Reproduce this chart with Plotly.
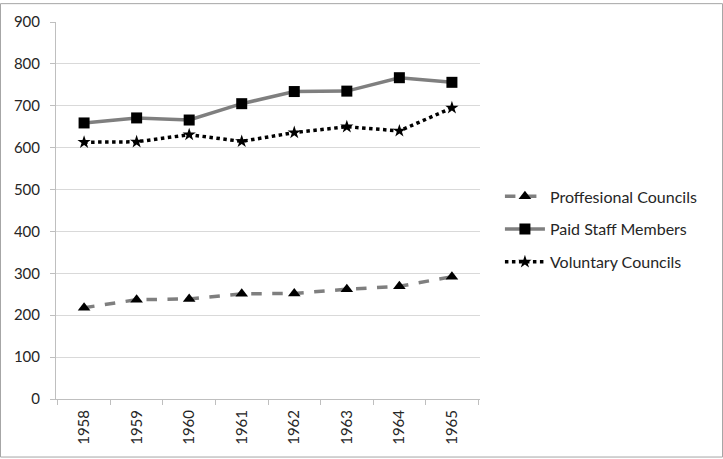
import plotly.graph_objects as go

years = ["1958", "1959", "1960", "1961", "1962", "1963", "1964", "1965"]
professional = [218, 237, 239, 251, 252, 262, 269, 292]
paid_staff = [659, 671, 666, 705, 734, 735, 767, 756]
voluntary = [613, 614, 631, 615, 636, 650, 640, 695]
y_ticks = [0, 100, 200, 300, 400, 500, 600, 700, 800, 900]

fig = go.Figure()
fig.add_trace(go.Scatter(
    x=years, y=professional, name="Proffesional Councils", mode="lines+markers",
    legendgroup="a",
    line=dict(color="#7f7f7f", width=3.5, dash="dash"),
    marker=dict(symbol="triangle-up", size=11, color="black")))
fig.add_trace(go.Scatter(
    x=years, y=paid_staff, name="Paid Staff Members", mode="lines+markers",
    legendgroup="b",
    line=dict(color="#7f7f7f", width=3.5),
    marker=dict(symbol="square", size=11, color="black")))
fig.add_trace(go.Scatter(
    x=years, y=voluntary, name="Voluntary Councils", mode="lines+markers",
    legendgroup="c",
    line=dict(color="black", width=3.5, dash="dot"),
    marker=dict(symbol="star", size=10, color="black")))

font_family = "Lato, Noto Sans, sans-serif"
fig.update_layout(
    width=723, height=459,
    margin=dict(l=56, r=243, t=19, b=60),
    paper_bgcolor="white", plot_bgcolor="white",
    font=dict(family=font_family, size=15, color="#262626"),
    showlegend=True,
    legend=dict(x=1.047, xanchor="left", y=0.45, yanchor="middle",
                font=dict(size=16, color="#262626"),
                traceorder="grouped", tracegroupgap=9, itemwidth=40),
    xaxis=dict(type="category", tickangle=-90, showline=True, linecolor="#bfbfbf",
               linewidth=1, ticks="outside", tickson="boundaries", ticklen=5,
               tickcolor="#bfbfbf", showgrid=False, ticklabelstandoff=4,
               tickfont=dict(size=15, color="#262626")),
    yaxis=dict(range=[0, 900], tickvals=y_ticks, showline=True, linecolor="#bfbfbf",
               linewidth=1, ticks="outside", ticklen=5, tickcolor="#bfbfbf",
               gridcolor="#d9d9d9", gridwidth=1, zeroline=False, ticklabelstandoff=7,
               tickfont=dict(size=15, color="#262626")),
    shapes=[dict(type="rect", xref="paper", yref="paper", x0=-55.5/424, x1=1+242.5/424,
                 y0=-58.5/380, y1=1+18.5/380, line=dict(color="#a6a6a6", width=1))],
)

fig.write_html("out.html", config={"displayModeBar": False},
               post_script="document.body.style.margin='0';document.body.style.overflow='hidden';")
